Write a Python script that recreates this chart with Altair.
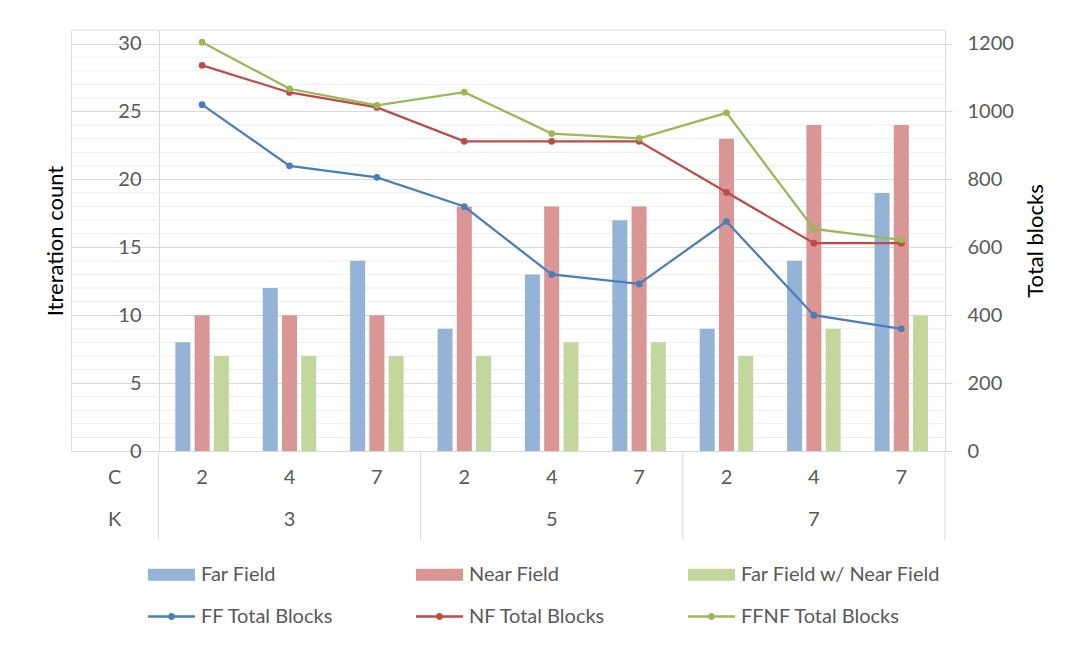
import altair as alt
import pandas as pd

# ---- data ----
k_vals = [3, 3, 3, 5, 5, 5, 7, 7, 7]
c_vals = [2, 4, 7, 2, 4, 7, 2, 4, 7]
far_field = [8, 12, 14, 9, 13, 17, 9, 14, 19]
near_field = [10, 10, 10, 18, 18, 18, 23, 24, 24]
ff_w_nf = [7, 7, 7, 7, 8, 8, 7, 9, 10]
ff_blocks = [1020, 840, 806, 720, 520, 492, 676, 400, 360]
nf_blocks = [1136, 1056, 1012, 912, 912, 912, 762, 612, 612]
ffnf_blocks = [1204, 1067, 1018, 1057, 935, 921, 996, 654, 622]

bar_series = ["Far Field", "Near Field", "Far Field w/ Near Field"]
line_series = ["FF Total Blocks", "NF Total Blocks", "FFNF Total Blocks"]
bar_colors = ["#95B3D7", "#D99694", "#C3D69B"]
line_colors = ["#4A7EBB", "#BE4B48", "#98B954"]

left_ticks = [0, 5, 10, 15, 20, 25, 30]
right_ticks = [0, 200, 400, 600, 800, 1000, 1200]
minor_lines = [1, 2, 3, 4, 6, 7, 8, 9, 11, 12, 13, 14, 16, 17, 18, 19,
               21, 22, 23, 24, 26, 27, 28, 29, 31]

FONT = "Lato"
GRID = "#d9d9d9"
LABEL = "#595959"

keys = [f"{k}|{c}" for k, c in zip(k_vals, c_vals)]
x_domain = ["hdr"] + keys

bars_df = pd.DataFrame(
    [{"key": key, "series": s, "value": v}
     for s, vals in zip(bar_series, [far_field, near_field, ff_w_nf])
     for key, v in zip(keys, vals)]
)
lines_df = pd.DataFrame(
    [{"key": key, "series": s, "blocks": v}
     for s, vals in zip(line_series, [ff_blocks, nf_blocks, ffnf_blocks])
     for key, v in zip(keys, vals)]
)
minor_df = pd.DataFrame({"v": minor_lines})
sep_df = pd.DataFrame({"key": ["hdr", "3|7", "5|7", "7|7"]})
crow_df = pd.DataFrame({"key": x_domain, "label": ["C"] + [str(c) for c in c_vals]})
krow_df = pd.DataFrame({"key": ["hdr", "3|4", "5|4", "7|4"], "label": ["K", "3", "5", "7"]})
legend_df = pd.DataFrame({"series": bar_series + line_series})

rect_path = "M-1,-0.26H1V0.26H-1Z"
line_path = ("M-1,-0.05H1V0.05H-1Z "
             "M0.15,0A0.15,0.15 0 1,1 -0.15,0A0.15,0.15 0 1,1 0.15,0Z")

W, H = 874, 421
x_scale = alt.Scale(domain=x_domain, paddingInner=0, paddingOuter=0)
y_left_scale = alt.Scale(domain=[0, 31], nice=False)
y_right_scale = alt.Scale(domain=[0, 1240], nice=False)

x_axis = alt.Axis(
    orient="bottom", domain=True, domainColor=GRID, ticks=False, tickSize=0,
    grid=False, labels=False,
)

minor = alt.Chart(minor_df).mark_rule(color="#eeeeee", strokeWidth=1).encode(
    y=alt.Y("v:Q", scale=y_left_scale, axis=None)
)

bars = alt.Chart(bars_df).mark_bar().encode(
    x=alt.X("key:N", scale=x_scale, axis=x_axis, title=None, sort=x_domain),
    xOffset=alt.XOffset("series:N", sort=bar_series,
                        scale=alt.Scale(domain=bar_series, paddingInner=0.22, paddingOuter=0.88)),
    y=alt.Y("value:Q", scale=y_left_scale,
            axis=alt.Axis(orient="left", values=left_ticks, offset=-88,
                          domain=True, domainColor=GRID, ticks=False, tickSize=0,
                          grid=True, gridColor=GRID,
                          labelFont=FONT, labelFontSize=20, labelColor=LABEL, labelPadding=18,
                          title="Itreration count", titleFont=FONT, titleFontSize=22,
                          titleFontWeight="normal", titleColor="#000000",
                          titleAngle=270, titleX=-104, titleY=H / 2,
                          titleAlign="center", titleBaseline="middle")),
    color=alt.Color("series:N", scale=alt.Scale(domain=bar_series, range=bar_colors), legend=None),
)

x_plain = alt.X("key:N", scale=x_scale, axis=None, sort=x_domain)

lines = alt.Chart(lines_df).mark_line(strokeWidth=2.25).encode(
    x=x_plain,
    y=alt.Y("blocks:Q", scale=y_right_scale,
            axis=alt.Axis(orient="right", values=right_ticks, format="d",
                          domain=True, domainColor=GRID, ticks=True, tickSize=7, tickColor=GRID,
                          grid=False,
                          labelFont=FONT, labelFontSize=20, labelColor=LABEL, labelPadding=15,
                          title="Total blocks", titleFont=FONT, titleFontSize=22,
                          titleFontWeight="normal", titleColor="#000000",
                          titleAngle=270, titleX=90, titleY=H / 2,
                          titleAlign="center", titleBaseline="middle")),
    color=alt.Color("series:N", scale=alt.Scale(domain=line_series, range=line_colors), legend=None),
)

points = alt.Chart(lines_df).mark_point(filled=True, size=45, opacity=1).encode(
    x=x_plain,
    y=alt.Y("blocks:Q", scale=y_right_scale, axis=None),
    color=alt.Color("series:N", scale=alt.Scale(domain=line_series, range=line_colors), legend=None),
)

seps = alt.Chart(sep_df).mark_rule(color=GRID, strokeWidth=1).encode(
    x=alt.X("key:N", scale=x_scale, axis=None, bandPosition=1),
    y=alt.value(H),
    y2=alt.value(H + 89),
)

crow = alt.Chart(crow_df).mark_text(font=FONT, fontSize=20, color=LABEL, baseline="middle").encode(
    x=x_plain,
    y=alt.value(H + 27),
    text="label:N",
)

krow = alt.Chart(krow_df).mark_text(font=FONT, fontSize=20, color=LABEL, baseline="middle").encode(
    x=x_plain,
    y=alt.value(H + 69),
    text="label:N",
)

leg = alt.Legend(
    orient="none", legendX=77, legendY=521, columns=3, direction="horizontal",
    columnPadding=82, rowPadding=8,
    symbolSize=2209, symbolStrokeWidth=0, labelFont=FONT, labelFontSize=20,
    labelColor=LABEL, labelOffset=6, labelLimit=400, title=None, padding=0,
)
legend_layer = alt.Chart(legend_df).mark_point(filled=True, size=0, opacity=1).encode(
    fill=alt.Fill("series:N", scale=alt.Scale(domain=bar_series + line_series,
                                              range=bar_colors + line_colors), legend=leg),
    shape=alt.Shape("series:N", scale=alt.Scale(domain=bar_series + line_series,
                                                range=[rect_path] * 3 + [line_path] * 3), legend=leg),
)

chart = alt.layer(minor, bars, lines, points, seps, crow, krow, legend_layer).resolve_scale(
    y="independent", color="independent"
).properties(
    width=W, height=H,
    autosize=alt.AutoSizeParams(type="none"),
    padding={"left": 63, "top": 22, "right": 120, "bottom": 180},
).configure_view(stroke=None).configure(background="#ffffff")

chart.save("out.html", embed_options={"renderer": "svg", "actions": False})
